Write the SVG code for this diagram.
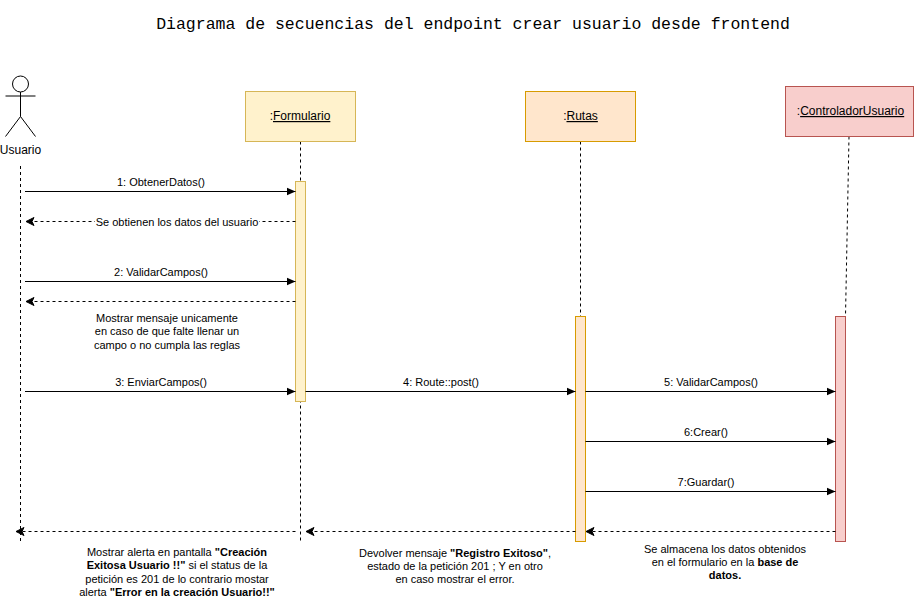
<svg xmlns="http://www.w3.org/2000/svg" width="914" height="598" viewBox="0 0 914 598">
<style>
text{font-family:"Liberation Sans",Arial,sans-serif;font-size:11px;fill:#000;text-anchor:middle}
.t{font-family:"Liberation Mono","Courier New",monospace;font-size:16.5px}
.n{font-size:12px}
.u{text-decoration:underline}
.b{font-weight:bold}
.l,.s,.d{fill:none;stroke:#000;stroke-width:1}
.l,.d{stroke-dasharray:3 3}
</style>
<defs>
<marker id="a" markerUnits="userSpaceOnUse" markerWidth="10" markerHeight="10" refX="9" refY="5" orient="auto"><path d="M0 1 L9 5 L0 9Z" fill="#000"/></marker>
<marker id="o" markerUnits="userSpaceOnUse" markerWidth="10" markerHeight="10" refX="9" refY="5" orient="auto"><path d="M1 1 L9 5 L1 9 L3 5Z" fill="#000" stroke="#000"/></marker>
</defs>
<rect width="914" height="598" fill="#fff"/>
<text class="t" x="473" y="29">Diagrama de secuencias del endpoint crear usuario desde frontend</text>
<g id="connectors">
<path class="l" d="M20.5 166V541M300.500 141.500V541M580.500 141.500V316.500M849 136.500L845.500 316.500"/>
</g>
<g id="usuario">
<circle cx="20.500" cy="84" r="8" fill="#fff" stroke="#000"/>
<path class="s" d="M20.500 92V116.500M5.500 96H35.500M20.500 116.500L5.500 136.500M20.500 116.500L35.500 136.500"/>
<text x="20.500" y="154" style="font-size:12px">Usuario</text>
</g>
<g id="formulario">
<rect x="245.500" y="91.500" width="110" height="50" fill="#fff2cc" stroke="#d6b656"/>
<text class="n" x="300" y="120">:<tspan class="u">Formulario</tspan></text>
<rect x="295.500" y="181.500" width="10" height="220" fill="#fff2cc" stroke="#d6b656"/>
</g>
<g id="rutas">
<rect x="525.500" y="91.500" width="110" height="50" fill="#ffe6cc" stroke="#d79b00"/>
<text class="n" x="580.500" y="120">:<tspan class="u">Rutas</tspan></text>
<rect x="575.500" y="316.500" width="10" height="225" fill="#ffe6cc" stroke="#d79b00"/>
</g>
<g id="controlador">
<rect x="785.500" y="86.500" width="128" height="50" fill="#f8cecc" stroke="#b85450"/>
<text class="n" x="850.500" y="115">:<tspan class="u">ControladorUsuario</tspan></text>
<rect x="835.500" y="316.500" width="10" height="225" fill="#f8cecc" stroke="#b85450"/>
</g>
<g id="messages">
<path class="s" marker-end="url(#a)" d="M25 191.500H295.500"/>
<path class="d" marker-end="url(#o)" d="M295.500 221.500H26"/>
<path class="s" marker-end="url(#a)" d="M25 281.500H295.500"/>
<path class="d" marker-end="url(#o)" d="M295.500 301.500H26"/>
<path class="s" marker-end="url(#a)" d="M25 391.500H295.500"/>
<path class="s" marker-end="url(#a)" d="M305.500 391.500H575.500"/>
<path class="s" marker-end="url(#a)" d="M585.500 391.500H835.500"/>
<path class="s" marker-end="url(#a)" d="M585.500 441.500H835.500"/>
<path class="s" marker-end="url(#a)" d="M585.500 491.500H835.500"/>
<path class="d" marker-end="url(#o)" d="M835.500 531.500H586"/>
<path class="d" marker-end="url(#o)" d="M575.500 531.500H306"/>
<path class="d" marker-end="url(#o)" d="M295.500 531.500H16"/>
</g>
<g id="labels">
<text x="161" y="186">1: ObtenerDatos()</text>
<rect x="95" y="215" width="164" height="14" fill="#fff"/>
<text x="177" y="226">Se obtienen los datos del usuario</text>
<text x="161" y="276">2: ValidarCampos()</text>
<text x="167" y="322">Mostrar mensaje unicamente</text>
<text x="167" y="335">en caso de que falte llenar un</text>
<text x="167" y="349">campo o no cumpla las reglas</text>
<text x="161" y="386">3: EnviarCampos()</text>
<text x="441" y="386">4: Route::post()</text>
<text x="711" y="386">5: ValidarCampos()</text>
<text x="706" y="436">6:Crear()</text>
<text x="706" y="486">7:Guardar()</text>
<text x="177" y="556">Mostrar alerta en pantalla <tspan class="b">"Creación</tspan></text>
<text x="177" y="569"><tspan class="b">Exitosa Usuario !!"</tspan> si el status de la</text>
<text x="177" y="583">petición es 201 de lo contrario mostar</text>
<text x="177" y="596">alerta <tspan class="b">"Error en la creación Usuario!!"</tspan></text>
<text x="455" y="557">Devolver mensaje <tspan class="b">"Registro Exitoso"</tspan>,</text>
<text x="455" y="570">estado de la petición 201 ; Y en otro</text>
<text x="455" y="583">en caso mostrar el error.</text>
<text x="725" y="553">Se almacena los datos obtenidos</text>
<text x="725" y="566">en el formulario en la <tspan class="b">base de</tspan></text>
<text x="725" y="579"><tspan class="b">datos.</tspan></text>
</g>
</svg>
